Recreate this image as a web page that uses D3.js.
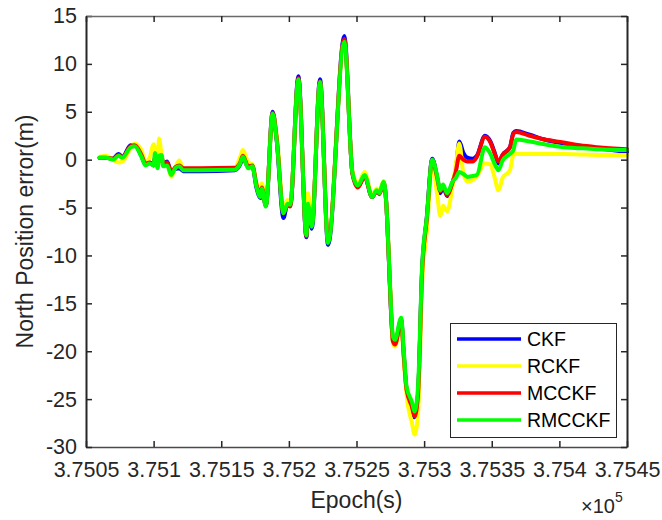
<!DOCTYPE html>
<html>
<head>
<meta charset="utf-8">
<script src="https://cdn.jsdelivr.net/npm/d3@7"></script>
<style>
  html, body { margin: 0; padding: 0; background: #fff; }
  svg { display: block; font-family: "Liberation Sans", Arial, sans-serif; }
</style>
</head>
<body>
<svg id="chart" width="662" height="520"></svg>
<script>
// ---- data ----
const epochs = [375060,375065,375070,375074,375077,375083,375086,375091,375094,375097,
  375100,375101,375103,375104,375106,375107,375110,375113,375116,375119,
  375122,375134,375160,375164,375166,375170,375173,375176,375179,375180,
  375183,375188,375191,375196,375199,375201,375207,375213,375214,375217,
  375223,375229,375241,375247,375251,375256,375261.5,375265,375267,375270,
  375272,375274,375275.5,375277,375278.5,375283,375285,375287,375291,375293,
  375295.5,375298.5,375302,375306,375309.5,375312,375314,375317,375321,375323.5,
  375326,375329,375332,375336,375339,375345,375349,375352,375355,375358,
  375363.5,375366,375368,375378,375389,375403,375415,375428,375450];

const ckf = [0.2,0.2,0.1,0.6,0.3,1.5,1.5,0.4,-0.5,-0.3,
  -0.6,0.2,-0.7,0.2,0.2,-0.5,-0.2,-1.3,-1.0,-0.9,
  -1.2,-1.2,-1.1,-0.5,0.2,-0.8,-0.7,-2.9,-4.0,-3.0,
  -4.8,5.0,2.0,-6.1,-4.6,-4.8,8.7,-8.1,-5.0,-7.2,
  8.4,-8.9,12.9,-1.4,-2.8,-1.7,-3.9,-3.3,-3.5,-2.3,
  -4.5,-10.7,-15.8,-19.0,-19.2,-16.7,-20.5,-24.0,-25.8,-26.9,
  -24.5,-11.5,-6.0,0.1,-1.8,-3.5,-2.8,-3.8,-2.4,-1.0,
  1.9,0.7,0.2,0.1,0.4,2.5,1.9,0.8,-0.4,0.5,
  1.3,2.8,3.0,2.6,2.1,1.7,1.4,1.2,0.8];

const rckf = [0.3,0.4,0.0,-0.3,-0.2,1.2,1.7,1.0,-0.2,0.2,
  1.6,1.2,-0.3,2.2,0.3,-0.6,-0.5,-1.8,-0.8,-0.1,
  -1.0,-1.0,-0.9,0.3,1.0,-0.3,-0.5,-2.4,-3.6,-2.5,
  -4.6,4.8,2.5,-5.0,-4.2,-4.4,8.2,-7.6,-3.5,-6.5,
  8.0,-8.3,12.5,-1.2,-2.5,-1.3,-3.7,-3.0,-3.4,-2.2,
  -4.5,-10.3,-15.3,-19.2,-19.5,-16.9,-21.0,-24.5,-27.5,-28.7,
  -26.5,-13.0,-7.5,-0.5,-3.5,-5.9,-4.8,-5.4,-2.8,-0.5,
  1.7,-1.4,-2.3,-2.1,-1.7,-0.4,-0.5,-1.8,-3.2,-1.9,
  -1.1,0.5,0.6,0.6,0.6,0.6,0.55,0.5,0.5];

const mcckf = [0.2,0.2,0.1,0.5,0.3,1.4,1.5,0.5,-0.4,-0.3,
  -0.5,0.3,-0.6,0.3,0.3,-0.4,-0.3,-1.3,-0.8,-0.6,
  -0.9,-0.9,-0.85,-0.3,0.4,-0.7,-0.6,-2.6,-3.7,-2.9,
  -4.8,4.9,2.2,-5.6,-4.7,-4.9,8.5,-8.0,-4.9,-6.8,
  8.2,-8.5,12.6,-1.5,-2.9,-1.8,-3.9,-3.3,-3.6,-2.5,
  -4.5,-10.7,-15.8,-19.0,-19.3,-16.8,-20.5,-24.0,-25.8,-26.8,
  -24.5,-11.8,-6.2,0.0,-1.8,-3.3,-2.8,-3.7,-2.4,-1.2,
  0.4,0.0,-0.2,-0.2,0.3,2.4,1.8,0.7,-0.2,0.5,
  1.3,2.7,2.9,2.5,2.1,1.8,1.5,1.3,1.1];

const rmcckf = [0.2,0.2,0.0,0.4,0.2,1.3,1.4,0.3,-0.6,-0.4,
  -0.6,0.7,-0.9,0.4,0.5,-0.7,-0.6,-1.6,-0.9,-0.7,
  -1.1,-1.1,-1.05,-0.4,0.3,-0.9,-0.7,-2.8,-3.9,-3.0,
  -4.9,4.8,2.0,-5.6,-4.6,-4.7,8.4,-7.9,-4.6,-7.0,
  8.1,-8.7,12.3,-1.4,-2.7,-1.6,-3.9,-3.2,-3.5,-2.3,
  -4.5,-10.5,-15.5,-18.5,-18.8,-16.5,-20.0,-23.7,-25.3,-26.3,
  -23.7,-11.2,-6.0,0.0,-1.6,-3.2,-2.6,-3.5,-2.3,-1.9,
  -1.3,-1.5,-1.8,-1.7,-1.6,1.3,0.6,-0.4,-1.1,-0.1,
  0.6,1.0,2.1,1.9,1.6,1.3,1.2,1.1,1.0];

const seriesNames = ["CKF", "RCKF", "MCCKF", "RMCCKF"];
const seriesColors = ["#0000ff", "#ffff00", "#ff0000", "#00ff00"];
const seriesValues = [ckf, rckf, mcckf, rmcckf];

const xTicks = [375050,375100,375150,375200,375250,375300,375350,375400,375450];
const xTickLabels = ["3.7505","3.751","3.7515","3.752","3.7525","3.753","3.7535","3.754","3.7545"];
const yTicks = [-30,-25,-20,-15,-10,-5,0,5,10,15];
const yTickLabels = ["-30","-25","-20","-15","-10","-5","0","5","10","15"];

const xLabel = "Epoch(s)";
const yLabel = "North Position error(m)";

// ---- layout ----
const L = 86, R = 627, T = 16, B = 447;
const axisColor = "#262626";
const svg = d3.select("#chart");

const x = d3.scaleLinear().domain([375050, 375450]).range([L, R]);
const y = d3.scaleLinear().domain([-30, 15]).range([B, T]);

svg.append("rect").attr("x", L).attr("y", T).attr("width", R - L).attr("height", B - T).attr("fill", "#fff");

// lines
const line = d3.line().x((d) => x(d[0])).y((d) => y(d[1])).curve(d3.curveMonotoneX);
const gLines = svg.append("g");
seriesValues.forEach((vals, i) => {
  gLines.append("path")
    .datum(epochs.map((e, j) => [e, vals[j]]))
    .attr("fill", "none")
    .attr("stroke", seriesColors[i])
    .attr("stroke-width", 4)
    .attr("stroke-linejoin", "round")
    .attr("stroke-linecap", "round")
    .attr("d", line);
});

// axes
function styleAxis(g) {
  g.selectAll(".domain").attr("stroke", axisColor);
  g.selectAll(".tick line").attr("stroke", axisColor).attr("stroke-width", 1.5);
  g.selectAll(".tick text").attr("fill", axisColor).attr("font-size", 21.5)
    .attr("font-family", "'Liberation Sans', Arial, sans-serif");
}
const xAxis = d3.axisBottom(x).tickValues(xTicks)
  .tickFormat((d, i) => xTickLabels[i]).tickSizeInner(-6).tickSizeOuter(0).tickPadding(15);
const gx = svg.append("g").attr("transform", `translate(0,${B})`).call(xAxis);
styleAxis(gx);
gx.select(".domain").attr("stroke-width", 1.5).attr("stroke", "#4a4a4a");

const yAxis = d3.axisLeft(y).tickValues(yTicks)
  .tickFormat((d, i) => yTickLabels[i]).tickSizeInner(-6).tickSizeOuter(0).tickPadding(9);
const gy = svg.append("g").attr("transform", `translate(${L},0)`).call(yAxis);
styleAxis(gy);
gy.select(".domain").attr("stroke-width", 2);

const xTop = d3.axisTop(x).tickValues(xTicks).tickFormat("").tickSizeInner(-6).tickSizeOuter(0);
const gxt = svg.append("g").attr("transform", `translate(0,${T})`).call(xTop);
styleAxis(gxt);
gxt.select(".domain").attr("stroke-width", 1.3).attr("stroke", "#6a6a6a");

const yRight = d3.axisRight(y).tickValues(yTicks).tickFormat("").tickSizeInner(-6).tickSizeOuter(0);
const gyr = svg.append("g").attr("transform", `translate(${R},0)`).call(yRight);
styleAxis(gyr);
gyr.select(".domain").attr("stroke-width", 2);

// axis labels
svg.append("text")
  .attr("x", (L + R) / 2).attr("y", 508)
  .attr("text-anchor", "middle").attr("font-size", 23).attr("fill", axisColor)
  .text(xLabel);

svg.append("text")
  .attr("transform", `translate(33,${(T + B) / 2}) rotate(-90)`)
  .attr("text-anchor", "middle").attr("font-size", 23).attr("fill", axisColor)
  .text(yLabel);

// exponent
svg.append("text")
  .attr("x", 615).attr("y", 513).attr("text-anchor", "end")
  .attr("font-size", 20).attr("fill", axisColor).text("\u00d710");
svg.append("text").attr("x", 615).attr("y", 502).attr("font-size", 14).attr("fill", axisColor).text("5");

// legend
const lg = svg.append("g");
lg.append("rect").attr("x", 450.5).attr("y", 323.5).attr("width", 166).attr("height", 114)
  .attr("fill", "#fff").attr("stroke", axisColor).attr("stroke-width", 1);
seriesNames.forEach((name, i) => {
  const yy = 339 + i * 27;
  lg.append("line").attr("x1", 457).attr("x2", 521).attr("y1", yy).attr("y2", yy)
    .attr("stroke", seriesColors[i]).attr("stroke-width", 3.6);
  lg.append("text").attr("x", 527).attr("y", yy + 7).attr("font-size", 19.5)
    .attr("fill", "#000").text(name);
});
</script>
</body>
</html>
